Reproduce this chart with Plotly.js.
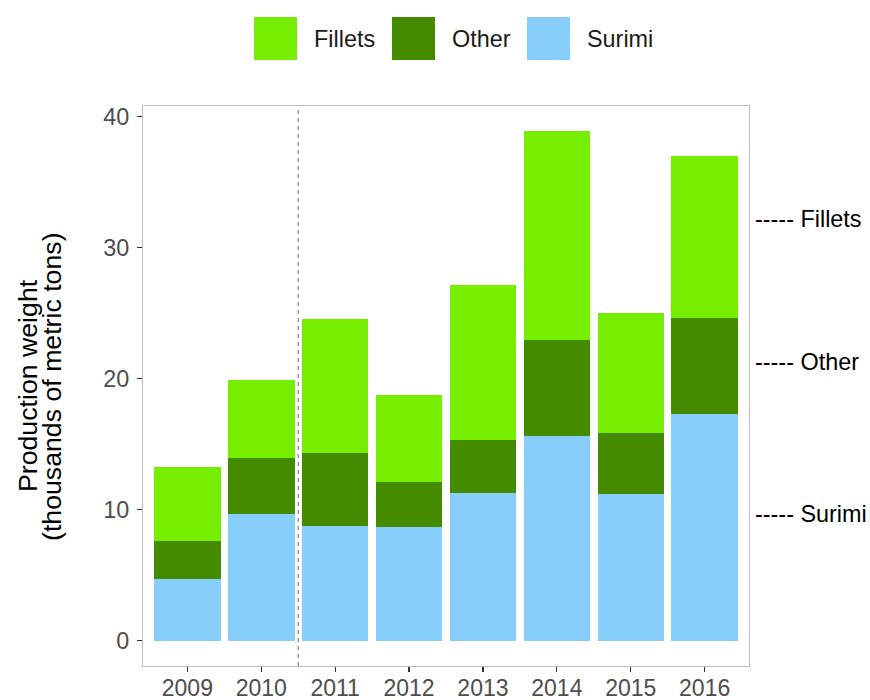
<!DOCTYPE html>
<html>
<head>
<meta charset="utf-8">
<script src="https://cdn.plot.ly/plotly-3.0.1.min.js"></script>
<style>html,body{margin:0;padding:0;background:#fff;}#chart{width:870px;height:700px;}</style>
</head>
<body>
<div id="chart"></div>
<script>
const years = ["2009","2010","2011","2012","2013","2014","2015","2016"];
const surimi  = [4.72, 9.68, 8.76, 8.69, 11.28, 15.62, 11.20, 17.30];
const other   = [2.90, 4.26, 5.56, 3.42, 4.03, 7.31, 4.65, 7.30];
const fillets = [5.64, 5.95, 10.21, 6.63, 11.81, 15.93, 9.14, 12.35];
const seriesNames = ["Fillets", "Other", "Surimi"];
const seriesColors = {Fillets: "#76EE00", Other: "#458B00", Surimi: "#87CEFA"};
const sideLabelY = {Fillets: 32.15, Other: 21.3, Surimi: 9.68};
const yTitleLines = ["Production weight", "(thousands of metric tons)"];

const font = "Liberation Sans, Arial, Helvetica, sans-serif";

const traces = [
  {name: "Surimi", values: surimi},
  {name: "Other", values: other},
  {name: "Fillets", values: fillets}
].map(s => ({
  type: "bar", x: years, y: s.values, name: s.name,
  marker: {color: seriesColors[s.name], line: {width: 0}},
  showlegend: false, hoverinfo: "x+y+name"
}));

// plot area in pixels
const L = 143, R = 749, T = 106, B = 666;
const W = 870, H = 700;
const px = v => (v - L) / (R - L);
const py = v => (B - v) / (B - T);

const shapes = [{
  type: "line", xref: "x", yref: "paper", x0: 1.5, x1: 1.5, y0: 0, y1: 1,
  line: {color: "#6b6b6b", width: 1, dash: "4px,4px"}
}];
const annotations = [];

// custom legend (keys 43px squares)
const legendKeys = [254, 392, 527];
seriesNames.forEach((n, i) => {
  const x0 = legendKeys[i];
  shapes.push({
    type: "rect", xref: "paper", yref: "paper",
    x0: px(x0), x1: px(x0 + 43), y0: py(60), y1: py(17),
    fillcolor: seriesColors[n], line: {width: 0}
  });
  annotations.push({
    xref: "paper", yref: "paper", x: px(x0 + 58), y: py(38.5),
    xanchor: "left", yanchor: "middle", showarrow: false, text: n,
    font: {family: font, size: 23.4, color: "#1a1a1a"}
  });
  annotations.push({
    xref: "paper", yref: "y", x: px(753), y: sideLabelY[n],
    xanchor: "left", yanchor: "middle", showarrow: false, text: "----- " + n,
    font: {family: font, size: 23.4, color: "#000000"}
  });
});

// y-axis title (two lines, tight line spacing)
const titleX = [28, 52];
yTitleLines.forEach((t, i) => {
  annotations.push({
    xref: "paper", yref: "paper", x: px(titleX[i]), y: 0.5,
    xanchor: "center", yanchor: "middle", showarrow: false, textangle: -90,
    text: t, font: {family: font, size: 26.7, color: "#000000"}
  });
});

const layout = {
  width: W, height: H,
  margin: {l: L, r: W - R, t: T, b: H - B, pad: 0},
  paper_bgcolor: "#fff", plot_bgcolor: "#fff",
  barmode: "stack", bargap: 0.1,
  font: {family: font, color: "#4D4D4D"},
  xaxis: {
    type: "category", range: [-0.6, 7.6],
    showline: true, mirror: true, linecolor: "#BDBDBD", linewidth: 1,
    ticks: "outside", ticklen: 5, tickcolor: "#333333", tickwidth: 1.2,
    ticklabelstandoff: -4,
    tickfont: {family: font, size: 23, color: "#4D4D4D"},
    showgrid: false, zeroline: false, fixedrange: true
  },
  yaxis: {
    range: [-1.94, 40.8], tickvals: [0, 10, 20, 30, 40],
    showline: true, mirror: true, linecolor: "#BDBDBD", linewidth: 1,
    ticks: "outside", ticklen: 5, tickcolor: "#333333", tickwidth: 1.2,
    ticklabelstandoff: 3,
    tickfont: {family: font, size: 23.4, color: "#4D4D4D"},
    showgrid: false, zeroline: false, fixedrange: true
  },
  shapes: shapes,
  annotations: annotations
};

Plotly.newPlot("chart", traces, layout, {displayModeBar: false, staticPlot: true});
</script>
</body>
</html>
